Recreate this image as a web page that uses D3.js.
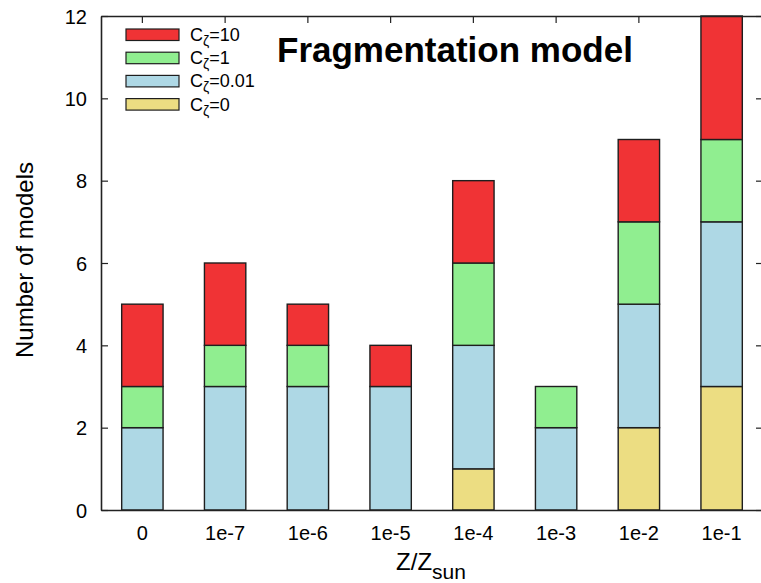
<!DOCTYPE html>
<html>
<head>
<meta charset="utf-8">
<script src="https://cdn.jsdelivr.net/npm/d3@7"></script>
<style>
  html, body { margin: 0; padding: 0; background: #fff; }
  svg { display: block; font-family: "Liberation Sans", Arial, Helvetica, sans-serif; }
</style>
</head>
<body>
<svg id="chart" width="761" height="583"></svg>
<script>
// Metallicity bins
const categories = ["0", "1e-7", "1e-6", "1e-5", "1e-4", "1e-3", "1e-2", "1e-1"];
// Number of models per C_zeta value, stacked bottom to top
const cZero   = [0, 0, 0, 0, 1, 0, 2, 3];
const cSmall  = [2, 3, 3, 3, 3, 2, 3, 4];
const cOne    = [1, 1, 1, 0, 2, 1, 2, 2];
const cTen    = [2, 2, 1, 1, 2, 0, 2, 3];
const yTicks  = [0, 2, 4, 6, 8, 10, 12];

const seriesKeys = ["c0", "c001", "c1", "c10"];
const seriesLabels = { c0: "=0", c001: "=0.01", c1: "=1", c10: "=10" };
const colors = { c0: "#ecdd82", c001: "#aed8e5", c1: "#90ee90", c10: "#f03335" };

const table = categories.map((c, i) => ({
  cat: c, c0: cZero[i], c001: cSmall[i], c1: cOne[i], c10: cTen[i]
}));
const stacked = d3.stack().keys(seriesKeys)(table);

const svg = d3.select("#chart");
const m = { left: 101, top: 16, right: 763, bottom: 510 };

const x = d3.scaleBand().domain(categories).range([m.left, m.right])
  .paddingInner(0.5).paddingOuter(0.25);
const y = d3.scaleLinear().domain([0, 12]).range([m.bottom, m.top]);

// Stacked bars
svg.append("g").selectAll("g").data(stacked).join("g")
  .attr("fill", d => colors[d.key])
  .selectAll("rect").data(d => d.filter(p => p[1] > p[0])).join("rect")
  .attr("x", d => x(d.data.cat))
  .attr("width", x.bandwidth())
  .attr("y", d => y(d[1]))
  .attr("height", d => y(d[0]) - y(d[1]))
  .attr("stroke", "#1e1e1e")
  .attr("stroke-width", 1.4);

// Frame with inward ticks
const tickLen = 7;
const axisColor = "#222";
const axL = svg.append("g").attr("transform", `translate(${m.left},0)`)
  .call(d3.axisLeft(y).tickValues(yTicks).tickSizeInner(-tickLen).tickSizeOuter(0).tickPadding(14));
const axR = svg.append("g").attr("transform", `translate(${m.right},0)`)
  .call(d3.axisRight(y).tickValues(yTicks).tickSizeInner(-tickLen).tickSizeOuter(0).tickFormat(""));
const axT = svg.append("g").attr("transform", `translate(0,${m.top})`)
  .call(d3.axisTop(x).tickSizeInner(-tickLen).tickSizeOuter(0).tickFormat(""));
const axB = svg.append("g").attr("transform", `translate(0,${m.bottom})`)
  .call(d3.axisBottom(x).tickSizeInner(-tickLen).tickSizeOuter(0).tickPadding(17));
[axL, axR, axT, axB].forEach(a => {
  a.select(".domain").attr("stroke", axisColor).attr("stroke-width", 1.6);
  a.selectAll(".tick line").attr("stroke", axisColor).attr("stroke-width", 1.2);
  a.selectAll("text").attr("font-size", 20).attr("fill", "#000")
    .attr("font-family", "'Liberation Sans', Arial, sans-serif");
});
axL.selectAll("text").attr("dy", "0.36em");
axB.selectAll("text").attr("dy", null).attr("y", 30);
axB.selectAll(".tick line").remove();
axT.selectAll(".tick").filter(d => d === categories[categories.length - 1]).remove();

// Axis titles
svg.append("text")
  .attr("transform", `translate(33,260) rotate(-90)`)
  .attr("text-anchor", "middle").attr("font-size", 24).text("Number of models");
const xt = svg.append("text").attr("x", 431).attr("y", 570)
  .attr("text-anchor", "middle").attr("font-size", 24);
xt.append("tspan").text("Z/Z");
xt.append("tspan").attr("font-size", 21).attr("dy", 9).text("sun");

// Title
svg.append("text").attr("x", 277).attr("y", 62)
  .attr("font-size", 35).attr("font-weight", "bold").text("Fragmentation model");

// Legend (top series first)
const legend = svg.append("g");
const legendOrder = ["c10", "c1", "c001", "c0"];
legendOrder.forEach((k, i) => {
  const yy = 29 + i * 23.2;
  legend.append("rect").attr("x", 126).attr("y", yy).attr("width", 53).attr("height", 11.5)
    .attr("fill", colors[k]).attr("stroke", "#1e1e1e").attr("stroke-width", 1.2);
  const t = legend.append("text").attr("x", 190).attr("y", yy + 12).attr("font-size", 18);
  t.append("tspan").text("C");
  t.append("tspan").attr("font-size", 14).attr("dy", 5).text("ζ");
  t.append("tspan").attr("dy", -5).text(seriesLabels[k]);
});
</script>
</body>
</html>
